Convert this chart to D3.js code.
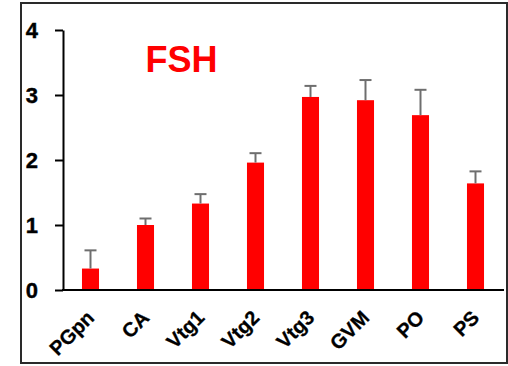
<!DOCTYPE html>
<html>
<head>
<meta charset="utf-8">
<script src="https://cdn.jsdelivr.net/npm/d3@7"></script>
<style>
  html, body { margin: 0; padding: 0; background: #fff; }
  svg { display: block; }
  text { font-family: "Liberation Sans", Arial, sans-serif; font-weight: bold; }
</style>
</head>
<body>
<svg id="chart" width="508" height="366"></svg>
<script>
// Relative FSH expression by developmental stage
const stages = ["PGpn", "CA", "Vtg1", "Vtg2", "Vtg3", "GVM", "PO", "PS"];
const means  = [0.33, 1.00, 1.33, 1.96, 2.97, 2.92, 2.69, 1.64];
const errors = [0.28, 0.10, 0.145, 0.145, 0.17, 0.31, 0.39, 0.185];
const yTicks = [0, 1, 2, 3, 4];
const title = "FSH";

const svg = d3.select("#chart");

// outer frame
svg.append("rect")
  .attr("x", 21).attr("y", 3)
  .attr("width", 486).attr("height", 360)
  .attr("fill", "none")
  .attr("stroke", "#2a2a2a")
  .attr("stroke-width", 2);

const x = d3.scaleBand().domain(stages).range([63, 503]).padding(0);
const y = d3.scaleLinear().domain([0, 4]).range([290, 30]);
const barW = x.bandwidth() * 0.31;

// bars
svg.append("g").selectAll("rect")
  .data(stages)
  .join("rect")
  .attr("x", (d) => x(d) + x.bandwidth() / 2 - barW / 2)
  .attr("y", (d, i) => y(means[i]))
  .attr("width", barW)
  .attr("height", (d, i) => y(0) - y(means[i]))
  .attr("fill", "#ff0000");

// upper error bars
const eb = svg.append("g")
  .attr("stroke", "#6e6e6e")
  .attr("stroke-width", 2);
stages.forEach((d, i) => {
  const cx = x(d) + x.bandwidth() / 2;
  eb.append("line")
    .attr("x1", cx).attr("x2", cx)
    .attr("y1", y(means[i])).attr("y2", y(means[i] + errors[i]));
  eb.append("line")
    .attr("x1", cx - 6).attr("x2", cx + 6)
    .attr("y1", y(means[i] + errors[i])).attr("y2", y(means[i] + errors[i]));
});

// y axis
const yAxis = svg.append("g")
  .attr("transform", "translate(63,0)")
  .call(d3.axisLeft(y).tickValues(yTicks).tickFormat(d3.format("d")).tickSize(8).tickSizeOuter(0));
yAxis.select(".domain").attr("stroke", "#000").attr("stroke-width", 2);
yAxis.selectAll(".tick line").attr("stroke", "#000").attr("stroke-width", 2);
yAxis.selectAll(".tick text")
  .attr("x", -25)
  .attr("dy", "0.36em")
  .attr("font-size", 22)
  .attr("fill", "#000")
  .attr("stroke", "#000")
  .attr("stroke-width", 0.4);

// x axis
const xAxis = svg.append("g")
  .attr("transform", "translate(0,290)")
  .call(d3.axisBottom(x).tickSize(0).tickSizeOuter(0));
xAxis.select(".domain")
  .attr("stroke", "#000").attr("stroke-width", 2)
  .attr("d", "M62,0H504");
xAxis.selectAll(".tick text")
  .attr("text-anchor", "end")
  .attr("font-size", 20)
  .attr("fill", "#000")
  .attr("stroke", "#000")
  .attr("stroke-width", 0.3)
  .attr("y", 0).attr("dy", 0)
  .attr("transform", "translate(5,29) rotate(-45)");

// title
svg.append("text")
  .attr("x", 181.5).attr("y", 72)
  .attr("text-anchor", "middle")
  .attr("font-size", 36)
  .attr("fill", "#ff0000")
  .text(title);
</script>
</body>
</html>
